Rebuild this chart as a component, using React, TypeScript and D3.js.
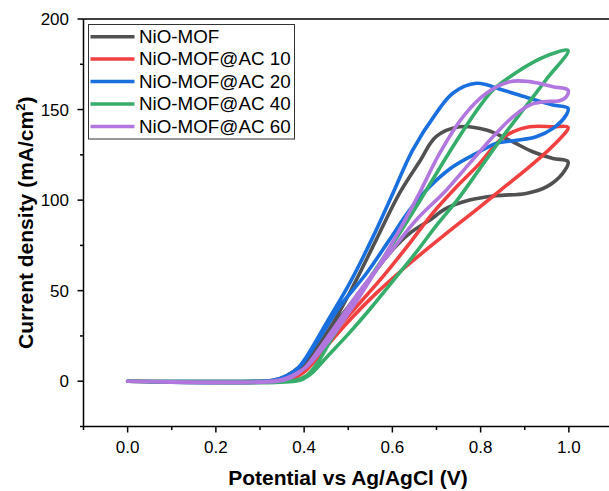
import React from "react";
import * as d3 from "d3";

type P = [number, number];

const seriesNames = ["NiO-MOF", "NiO-MOF@AC 10", "NiO-MOF@AC 20", "NiO-MOF@AC 40", "NiO-MOF@AC 60"];
const seriesColors = ["#515151", "#F14040", "#1A6FDF", "#37AD6B", "#B177DE"];

// Each loop: forward (upper) branch 0 -> 1 V, then return branch 1 -> 0 V
const nioMof: P[] = [
  [0, 0], [0.3, 0], [0.33, 0.5], [0.36, 3], [0.39, 8], [0.412, 13.4], [0.465, 31.9], [0.518, 55.8],
  [0.563, 77.9], [0.616, 103.7], [0.661, 121], [0.699, 135], [0.752, 140.5], [0.813, 138.7],
  [0.866, 133], [0.918, 126.7], [0.964, 123], [0.998, 121.2],
  [0.986, 114.8], [0.949, 107.3], [0.903, 103.7], [0.835, 102.4], [0.775, 100], [0.722, 95.4],
  [0.685, 89], [0.639, 81.6], [0.593, 70.5], [0.541, 54], [0.488, 37.4], [0.435, 20.8], [0.4, 9],
  [0.37, 3], [0.34, 0.5], [0.3, 0], [0, 0],
];
const ac10: P[] = [
  [0, 0], [0.33, 0], [0.36, 1], [0.39, 5], [0.412, 9.8], [0.465, 26.4], [0.518, 41], [0.578, 57.6],
  [0.639, 76.1], [0.692, 93], [0.745, 107.3], [0.797, 120], [0.843, 133], [0.873, 137.7],
  [0.911, 140.5], [0.964, 140.5], [0.998, 140.2],
  [0.964, 130], [0.911, 118.5], [0.85, 106.5], [0.797, 96], [0.714, 80], [0.639, 65],
  [0.563, 48.5], [0.503, 33.7], [0.45, 19], [0.42, 10], [0.4, 5], [0.37, 1], [0.34, 0], [0, 0],
];
const ac20: P[] = [
  [0, 0], [0.3, 0], [0.33, 0.5], [0.36, 3], [0.385, 7], [0.405, 13.4], [0.45, 31.9], [0.503, 54],
  [0.556, 79.7], [0.601, 103.7], [0.646, 127.6], [0.699, 147.9], [0.737, 159], [0.79, 164.5],
  [0.85, 160.8], [0.911, 156.2], [0.964, 152.5], [0.998, 150.7],
  [0.994, 147], [0.964, 139.6], [0.926, 135], [0.881, 133], [0.835, 131.3], [0.79, 125.8],
  [0.737, 118.4], [0.684, 107.3], [0.639, 94.5], [0.593, 77.9], [0.541, 59.5], [0.48, 41],
  [0.427, 20.8], [0.39, 8], [0.36, 2], [0.33, 0], [0, 0],
];
const ac40: P[] = [
  [0, 0], [0.35, 0], [0.38, 0.5], [0.405, 3], [0.43, 10], [0.465, 24.5], [0.541, 54], [0.616, 81.6],
  [0.661, 99], [0.677, 105.5], [0.737, 129.5], [0.797, 151.5], [0.828, 160.8], [0.866, 168],
  [0.926, 177], [0.964, 181], [0.998, 182.5],
  [0.95, 167], [0.9, 151], [0.85, 135], [0.8, 118], [0.75, 101], [0.7, 86], [0.65, 70], [0.6, 55],
  [0.55, 40], [0.5, 26], [0.45, 13], [0.42, 5], [0.4, 1.5], [0.38, 0], [0, 0],
];
const ac60: P[] = [
  [0, 0], [0.32, 0], [0.35, 1], [0.38, 4], [0.405, 7.9], [0.457, 22.7], [0.51, 41], [0.563, 61.3],
  [0.616, 83.4], [0.661, 103.7], [0.707, 125.8], [0.76, 146], [0.813, 159], [0.866, 165.4],
  [0.911, 165.4], [0.964, 162.6], [0.998, 160.8],
  [0.994, 157], [0.979, 154.9], [0.941, 154.3], [0.911, 152.5], [0.873, 146], [0.828, 135],
  [0.775, 120.3], [0.722, 105.5], [0.654, 89], [0.593, 70.5], [0.533, 52.1], [0.48, 33.7],
  [0.427, 15.3], [0.4, 7], [0.37, 2], [0.34, 0], [0, 0],
];
const seriesData = [nioMof, ac10, ac20, ac40, ac60];

const xMajorTicks = [0, 0.2, 0.4, 0.6, 0.8, 1.0];
const xMinorTicks = [-0.1, 0.1, 0.3, 0.5, 0.7, 0.9, 1.1];
const yMajorTicks = [0, 50, 100, 150, 200];
const yMinorTicks = [-25, 25, 75, 125, 175];

const W = 609;
const H = 491;
const left = 83.5;
const right = 613;
const top = 19;
const bottom = 426.5;
const font = "Arial, 'Liberation Sans', sans-serif";

export default function App() {
  const x = d3.scaleLinear().domain([-0.1, 1.1]).range([left, right]);
  const y = d3.scaleLinear().domain([-25, 200]).range([bottom, top]);
  const line = d3
    .line<P>()
    .x((d) => x(d[0]))
    .y((d) => y(d[1]))
    .curve(d3.curveCatmullRom.alpha(0.5));

  const legendRows = [36.7, 59, 81.5, 104, 126.5];

  return (
    <svg
      width={W}
      height={H}
      style={{ position: "absolute", left: 0, top: 0, background: "#fff" }}
      fontFamily={font}
    >
      <rect x={0} y={0} width={W} height={H} fill="#fff" />
      {seriesData.map((d, i) => (
        <path
          key={i}
          d={line(d) || ""}
          fill="none"
          stroke={seriesColors[i]}
          strokeWidth={3.6}
          strokeLinejoin="round"
          strokeLinecap="round"
        />
      ))}
      {/* frame */}
      <line x1={left} x2={left} y1={top} y2={bottom} stroke="#000" strokeWidth={1.5} />
      <line x1={left} x2={right} y1={bottom} y2={bottom} stroke="#000" strokeWidth={1.5} />
      <line x1={left} x2={right} y1={top} y2={top} stroke="#000" strokeWidth={1.5} />
      <line x1={right} x2={right} y1={top} y2={bottom} stroke="#000" strokeWidth={1.5} />
      {/* x ticks */}
      {xMajorTicks.map((t) => (
        <g key={"xm" + t}>
          <line x1={x(t)} x2={x(t)} y1={bottom} y2={bottom + 6} stroke="#000" strokeWidth={1.5} />
          <text x={x(t)} y={453} textAnchor="middle" fontSize={17} fill="#000">
            {t.toFixed(1)}
          </text>
        </g>
      ))}
      {xMinorTicks.map((t) => (
        <line key={"xn" + t} x1={x(t)} x2={x(t)} y1={bottom} y2={bottom + 3.5} stroke="#000" strokeWidth={1.5} />
      ))}
      {/* y ticks */}
      {yMajorTicks.map((t) => (
        <g key={"ym" + t}>
          <line x1={left - 6} x2={left} y1={y(t)} y2={y(t)} stroke="#000" strokeWidth={1.5} />
          <text x={69} y={y(t) + 6} textAnchor="end" fontSize={17} fill="#000">
            {t}
          </text>
        </g>
      ))}
      {yMinorTicks.map((t) => (
        <line key={"yn" + t} x1={left - 3.5} x2={left} y1={y(t)} y2={y(t)} stroke="#000" strokeWidth={1.5} />
      ))}
      {/* axis titles */}
      <text x={348} y={485} textAnchor="middle" fontSize={21} fontWeight="bold" fill="#000">
        Potential vs Ag/AgCl (V)
      </text>
      <text
        transform={`translate(33, ${(top + bottom) / 2}) rotate(-90)`}
        textAnchor="middle"
        fontSize={21}
        fontWeight="bold"
        fill="#000"
      >
        Current density (mA/cm
        <tspan fontSize={13} dy={-8}>2</tspan>
        <tspan dy={8}>)</tspan>
      </text>
      {/* legend */}
      <rect x={88.5} y={24.5} width={206} height={114.5} fill="#fff" stroke="#333" strokeWidth={1} />
      {seriesNames.map((n, i) => (
        <g key={n}>
          <line
            x1={90.5}
            x2={134.5}
            y1={legendRows[i]}
            y2={legendRows[i]}
            stroke={seriesColors[i]}
            strokeWidth={3.5}
          />
          <text x={139} y={legendRows[i] + 6.3} fontSize={18.8} fill="#000">
            {n}
          </text>
        </g>
      ))}
    </svg>
  );
}
